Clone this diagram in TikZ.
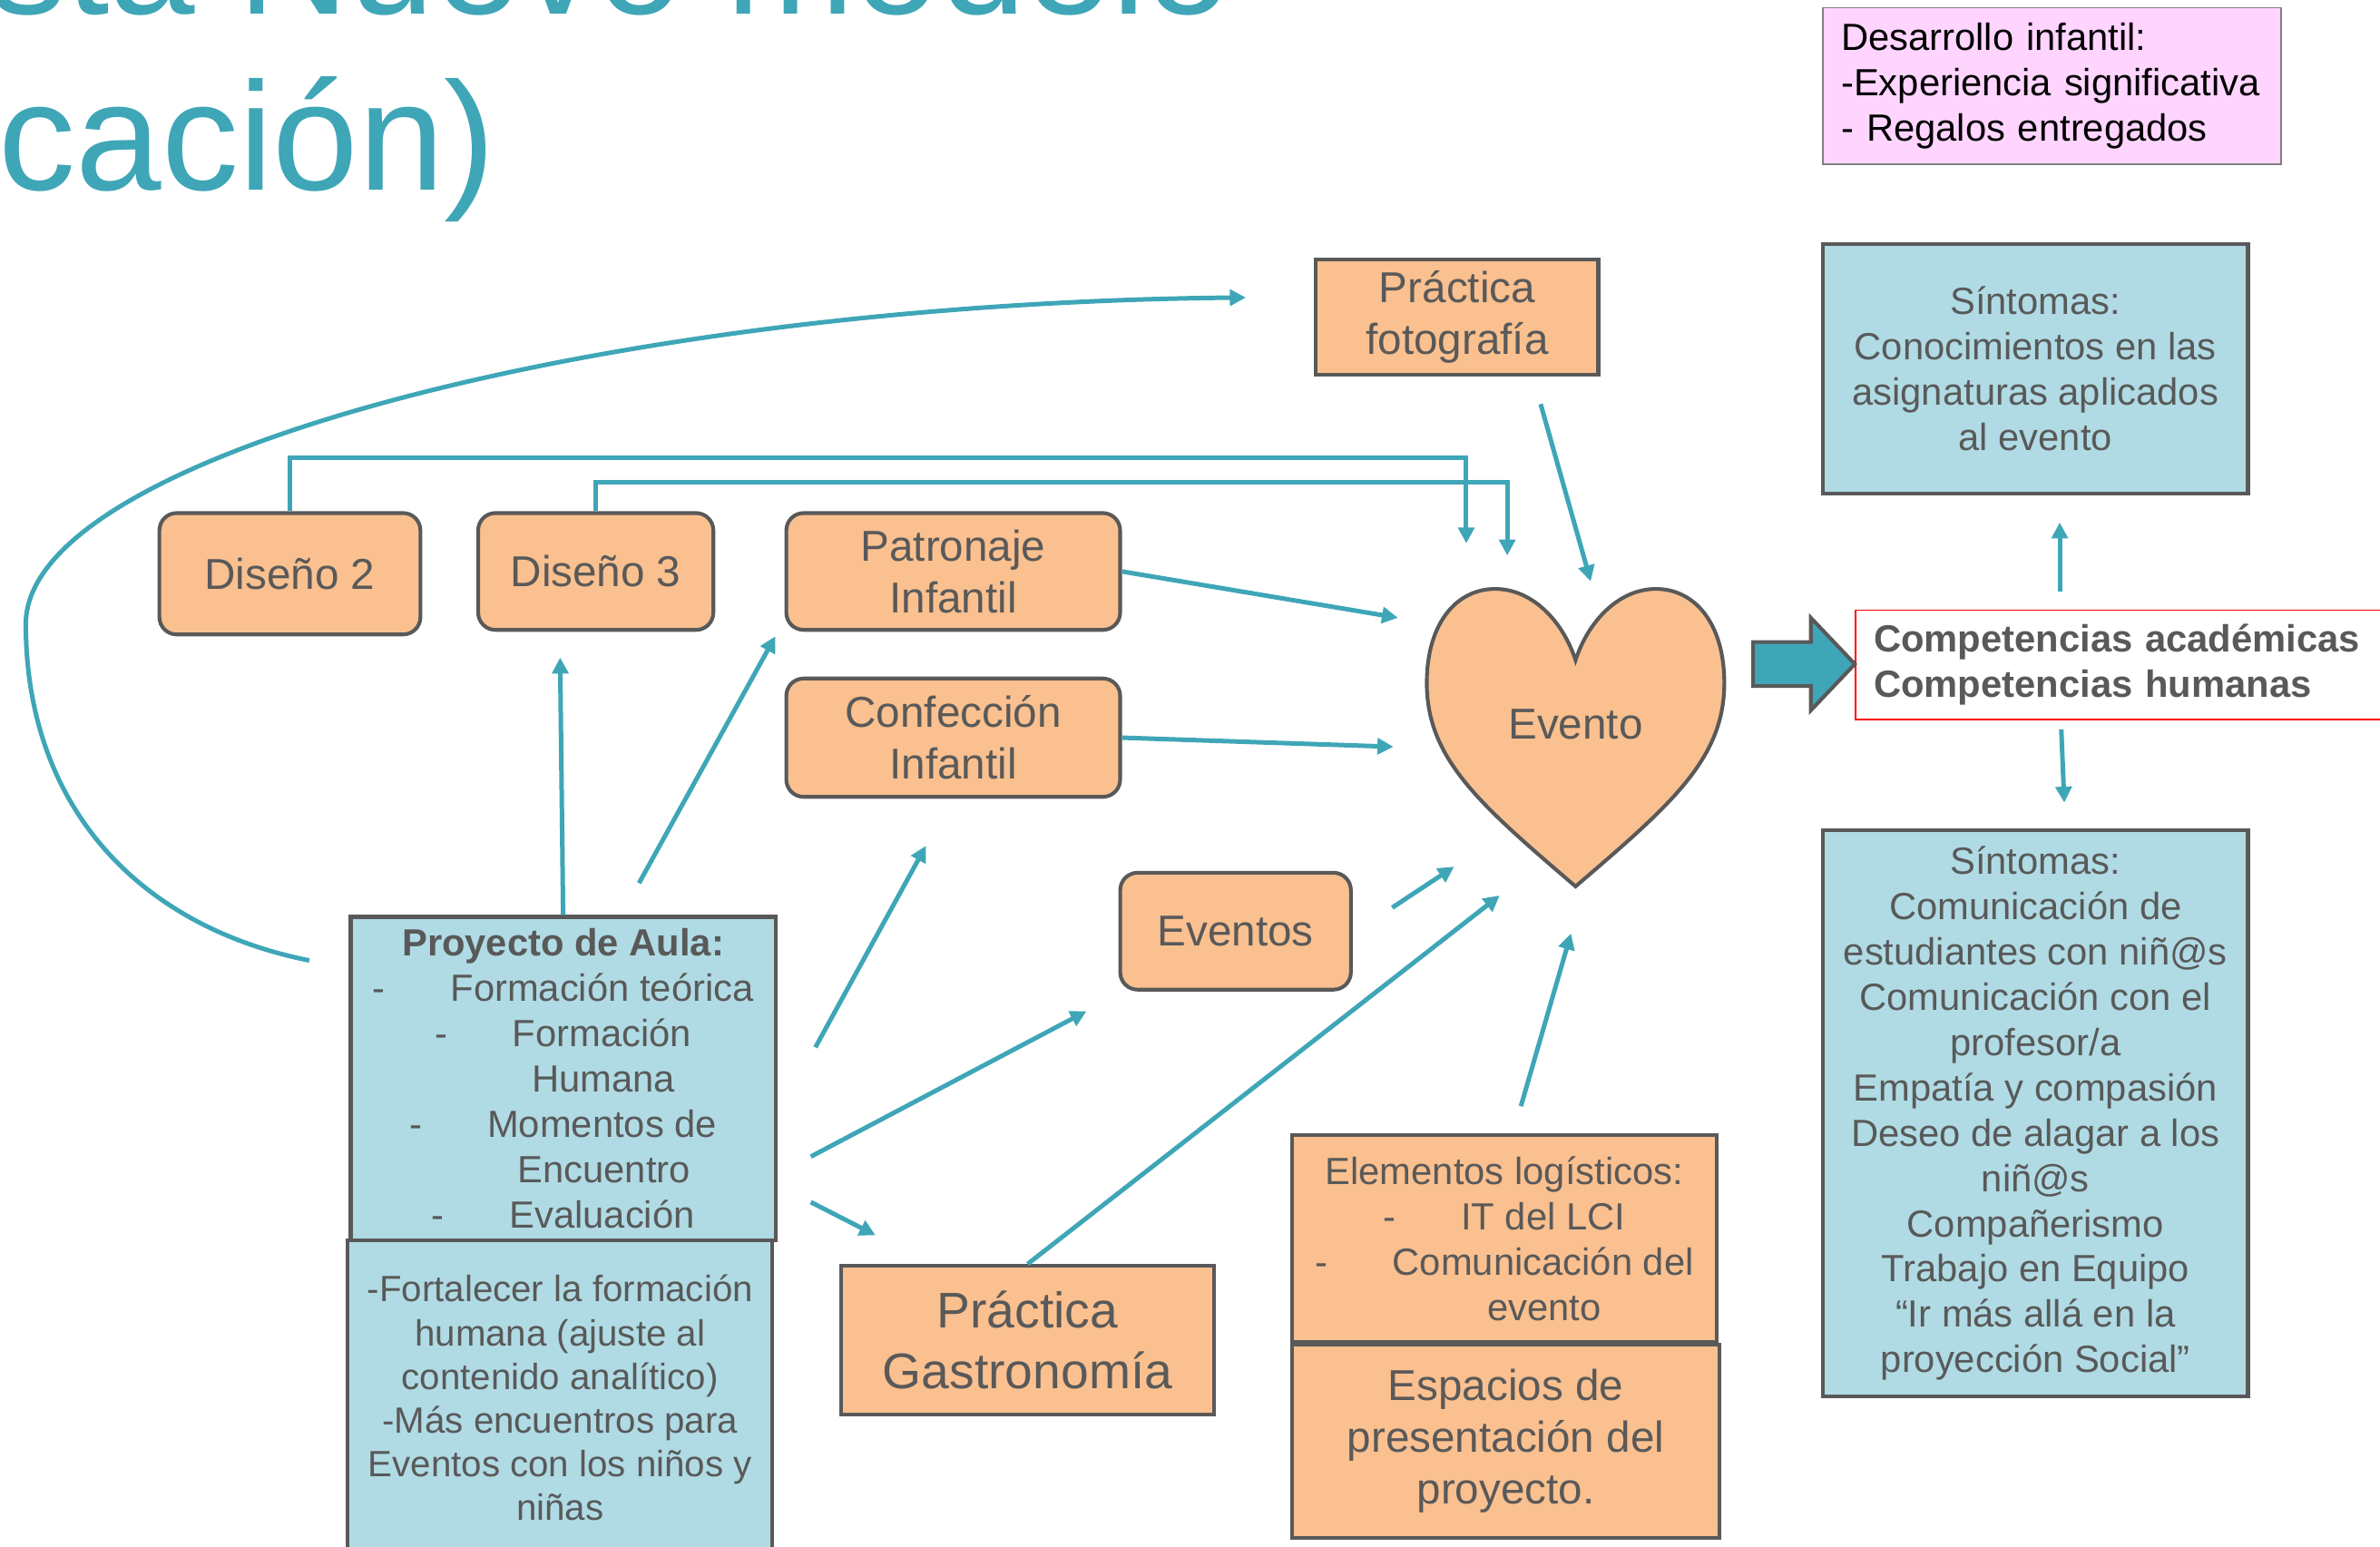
\documentclass[tikz,border=0pt]{standalone}
\usepackage{fontspec}
\setmainfont{Liberation Sans}
\usetikzlibrary{
	positioning,   % posiciones relativas
	calc,          % calculo de coordenadas
	arrows.meta    % puntas de flecha
}
\definecolor{azulflecha}{RGB}{62,166,183}
\definecolor{naranja}{RGB}{250,192,143}
\definecolor{celeste}{RGB}{176,219,228}
\definecolor{rosa}{RGB}{255,213,255}
\definecolor{grisborde}{RGB}{89,89,89}
\newcommand{\fuentebase}{\fontsize{14.2pt}{17pt}\selectfont}
\newcommand{\fuentegrande}{\fontsize{16.2pt}{19.3pt}\selectfont}
\newcommand{\fuentegastro}{\fontsize{18.8pt}{22.7pt}\selectfont}
\newcommand{\fuentechica}{\fontsize{13.7pt}{16.4pt}\selectfont}
\tikzset{
	every picture/.style={
		>={Triangle[length=6pt,width=6pt]}
	},
	caja/.style={draw=grisborde, line width=1.4pt, fill=naranja,
		text=grisborde, align=center, inner sep=0pt, font=\fuentegrande},
	cajaredonda/.style={caja, rounded corners=6.5pt},
	cajaazul/.style={caja, fill=celeste, font=\fuentebase},
	cajarosa/.style={draw=gray, line width=0.6pt, fill=rosa, text=black,
		align=left, inner xsep=0.24cm, inner ysep=0pt, font=\fuentebase},
	cajacomp/.style={draw=red, line width=0.6pt, fill=white, text=grisborde,
		align=left, inner xsep=0.24cm, inner ysep=0pt, font=\fuentebase\bfseries},
	flecha/.style={->, draw=azulflecha, line width=1.7pt},
	titulo/.style={text=azulflecha, inner sep=0pt,
		font=\fontsize{57.8pt}{60pt}\selectfont}
}

\begin{document}
\begin{tikzpicture}[x=0.02cm,y=-0.02cm]
\useasboundingbox (0,0) rectangle (1568,1019);
\clip (0,0) rectangle (1568,1019);

% titulo cortado
\node[titulo, anchor=base east] (tit1) at (812,9) {sta Nuevo modelo};
\node[titulo, anchor=base east] (tit2) at (327,125) {cación)};

% columna derecha
\node[cajarosa, text width=5.56cm, minimum height=2.06cm] (desarrollo) at (1352,56.5)
	{Desarrollo infantil:\\-Experiencia significativa\\- Regalos entregados};
\node[cajaazul, minimum width=5.6cm, minimum height=3.28cm] (sint1) at (1341,243)
	{Síntomas:\\Conocimientos en las\\asignaturas aplicados\\al evento};
\node[cajacomp, anchor=west, text width=7.52cm, minimum height=1.44cm] (comp) at (1222,438)
	{\fontsize{14.2pt}{17.5pt}\selectfont Competencias académicas\\Competencias humanas};
\node[cajaazul, minimum width=5.6cm, minimum height=7.46cm] (sint2) at (1341,733.5)
	{Síntomas:\\Comunicación de\\estudiantes con niñ@s\\Comunicación con el\\profesor/a\\
	Empatía y compasión\\Deseo de alagar a los\\niñ@s\\Compañerismo\\Trabajo en Equipo\\
	“Ir más allá en la\\proyección Social”};

% cajas naranjas
\node[caja, minimum width=3.72cm, minimum height=1.52cm] (foto) at (960,209)
	{Práctica\\fotografía};
\node[cajaredonda, minimum width=3.44cm, minimum height=1.6cm] (dis2) at (191,378) {Diseño 2};
\node[cajaredonda, minimum width=3.1cm, minimum height=1.54cm] (dis3) at (392.5,376.5) {Diseño 3};
\node[cajaredonda, minimum width=4.4cm, minimum height=1.54cm] (patron) at (628,376.5)
	{Patronaje\\Infantil};
\node[cajaredonda, minimum width=4.4cm, minimum height=1.56cm] (confec) at (628,486)
	{Confección\\Infantil};
\node[cajaredonda, minimum width=3.04cm, minimum height=1.54cm] (eventos) at (814,613.5) {Eventos};
\node[caja, font=\fuentegastro, minimum width=4.92cm, minimum height=1.96cm] (gastro) at (677,883)
	{Práctica\\Gastronomía};
\node[caja, font=\fuentebase, minimum width=5.6cm, minimum height=2.72cm] (elem) at (991,816)
	{Elementos logísticos:\\-\hspace{0.86cm}IT del LCI\\-\hspace{0.86cm}Comunicación del\\
	\hspace{1.06cm}evento};
\node[caja, minimum width=5.64cm, minimum height=2.54cm] (espacios) at (992,949.5)
	{Espacios de\\presentación del\\proyecto.};

% cajas azules de la izquierda
\node[cajaazul, minimum width=5.6cm, minimum height=4.26cm] (proyecto) at (371,710.5)
	{\textbf{Proyecto de Aula:}\\-\hspace{0.86cm}Formación teórica\\-\hspace{0.86cm}Formación\\
	\hspace{1.06cm}Humana\\-\hspace{0.86cm}Momentos de\\\hspace{1.08cm}Encuentro\\
	-\hspace{0.86cm}Evaluación};
\node[cajaazul, font=\fuentechica, minimum width=5.6cm, minimum height=4.16cm] (fortalecer) at (369,921)
	{-Fortalecer la formación\\humana (ajuste al\\contenido analítico)\\-Más encuentros para\\
	Eventos con los niños y\\niñas};

% corazon
\draw[draw=grisborde, line width=1.4pt, fill=naranja] (1038,435)
	.. controls (1030,410) and (1010,388) .. (985,388)
	.. controls (960,388) and (940,410) .. (940,450)
	.. controls (940,500) and (975,530) .. (1038,584)
	.. controls (1101,530) and (1136,500) .. (1136,450)
	.. controls (1136,410) and (1116,388) .. (1091,388)
	.. controls (1066,388) and (1046,410) .. (1038,435) -- cycle;
\node[font=\fuentegrande, text=grisborde] (evento) at (1038,477) {Evento};

% flecha gruesa
\draw[draw=grisborde, line width=1.4pt, fill=azulflecha] (1155,423) -- (1193,423)
	-- (1193,407) -- (1222,437.5) -- (1193,468) -- (1193,452) -- (1155,452) -- cycle;

% desde Proyecto de Aula
\draw[flecha] (proyecto.north) -- ($(dis3.south)+(-23.5,17)$);
\draw[flecha] ($(proyecto.north)+(50,-21)$) -- ($(patron.south west)+(-6,3)$);
\draw[flecha] ($(proyecto.east)+(25,-20.5)$) -- ($(confec.south)+(-18,31)$);
\draw[flecha] ($(proyecto.east)+(22,51.5)$) -- ($(eventos.south west)+(-21,13)$);
\draw[flecha] ($(proyecto.east)+(22,81.5)$) -- ($(gastro.north west)+(24,-19)$);
\draw[flecha] ($(proyecto.north west)+(-26,30)$) .. controls (90,610) and (17,530) .. (17,411)
	.. controls (17,300) and (400,200) .. ($(foto.west)+(-45,-13)$);

% hacia Evento
\draw[flecha] (dis2.north) -- ++(0,-35) -| ($(evento)+(-72,-119)$);
\draw[flecha] (dis3.north) -- ++(0,-19) -| ($(evento)+(-45,-111)$);
\draw[flecha] ($(foto.south)+(55,18)$) -- ($(evento)+(10,-94)$);
\draw[flecha] (patron.east) -- ($(evento)+(-117,-70)$);
\draw[flecha] (confec.east) -- ($(evento)+(-120,15)$);
\draw[flecha] ($(eventos.east)+(26,-15.5)$) -- ($(evento)+(-80,94)$);
\draw[flecha] (gastro.north) -- ($(evento)+(-50,113)$);
\draw[flecha] ($(elem.north)+(11,-18)$) -- ($(evento)+(-3,138)$);

% competencias
\draw[flecha] ($(comp.north west)+(135,-12)$) -- ($(sint1.south)+(16,18)$);
\draw[flecha] ($(comp.south west)+(136,6)$) -- ($(sint2.north)+(19,-17)$);
\end{tikzpicture}
\end{document}
